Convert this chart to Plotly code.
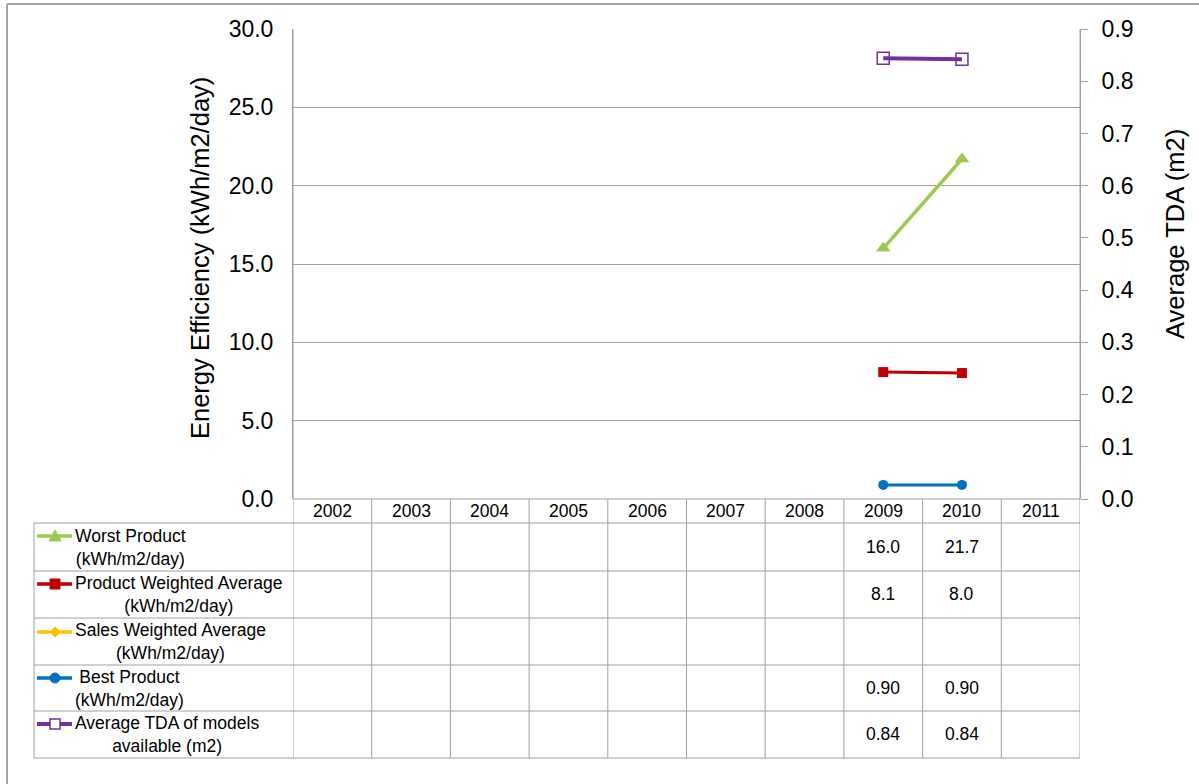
import plotly.graph_objects as go

# ---------------- data ----------------
years = ["2002", "2003", "2004", "2005", "2006", "2007", "2008", "2009", "2010", "2011"]
worst_product = [None, None, None, None, None, None, None, 16.0, 21.7, None]
product_weighted_avg = [None, None, None, None, None, None, None, 8.1, 8.04, None]
sales_weighted_avg = [None, None, None, None, None, None, None, None, None, None]
best_product = [None, None, None, None, None, None, None, 0.90, 0.90, None]
avg_tda = [None, None, None, None, None, None, None, 0.844, 0.842, None]

series_names = [
    "Worst Product<br>(kWh/m2/day)",
    "Product Weighted Average<br>(kWh/m2/day)",
    "Sales Weighted Average<br>(kWh/m2/day)",
    "Best Product<br>(kWh/m2/day)",
    "Average TDA of models<br>available (m2)",
]
series_values = [worst_product, product_weighted_avg, sales_weighted_avg, best_product, avg_tda]
series_formats = ["{:.1f}", "{:.1f}", "{:.1f}", "{:.2f}", "{:.2f}"]
series_colors = ["#9BCB4E", "#C00000", "#FFC000", "#0070C0", "#7030A0"]
left_ticks = [0, 5, 10, 15, 20, 25, 30]
right_ticks = [0.0, 0.1, 0.2, 0.3, 0.4, 0.5, 0.6, 0.7, 0.8, 0.9]

# ---------------- layout helpers ----------------
W, H = 1199, 784
def fx(x):
    return x / W
def fy(y):
    return 1 - y / H

FONT = "Liberation Sans, Arial, sans-serif"
GRID = "#A0A0A0"
TFS = 17.5
xi = list(range(len(years)))

fig = go.Figure()

fig.add_trace(go.Scatter(x=xi, y=worst_product, mode="lines+markers", name="Worst",
                         line=dict(color=series_colors[0], width=3.5),
                         marker=dict(symbol="triangle-up", size=13, color=series_colors[0])))
fig.add_trace(go.Scatter(x=xi, y=product_weighted_avg, mode="lines+markers", name="PWA",
                         line=dict(color=series_colors[1], width=3),
                         marker=dict(symbol="square", size=10, color=series_colors[1])))
fig.add_trace(go.Scatter(x=xi, y=sales_weighted_avg, mode="lines+markers", name="SWA",
                         line=dict(color=series_colors[2], width=3),
                         marker=dict(symbol="diamond", size=10, color=series_colors[2])))
fig.add_trace(go.Scatter(x=xi, y=best_product, mode="lines+markers", name="Best",
                         line=dict(color=series_colors[3], width=3),
                         marker=dict(symbol="circle", size=10, color=series_colors[3])))
fig.add_trace(go.Scatter(x=xi, y=avg_tda, mode="lines+markers", name="TDA", yaxis="y2",
                         line=dict(color=series_colors[4], width=4),
                         marker=dict(symbol="square-open", size=12, color=series_colors[4],
                                     line=dict(width=1.5, color=series_colors[4]))))

shapes = []
def hline(y, x0, x1, xref="paper", color=GRID, width=1):
    shapes.append(dict(type="line", xref=xref, yref="paper", x0=x0, x1=x1, y0=fy(y), y1=fy(y),
                       line=dict(color=color, width=width)))

# x axis line at y=0
hline(499, -0.5, 9.5, xref="x")
# table horizontal lines
for yy in [523, 571, 618, 665, 711, 758]:
    hline(yy, fx(34), fx(1080))
# left border of table legend column
shapes.append(dict(type="line", xref="paper", yref="paper", x0=fx(34), x1=fx(34), y0=fy(523), y1=fy(758),
                   line=dict(color=GRID, width=1)))
# column boundaries
for k in range(len(years) + 1):
    top = 29 if k in (0, len(years)) else 499
    shapes.append(dict(type="line", xref="x", yref="paper", x0=k - 0.5, x1=k - 0.5,
                       y0=fy(top), y1=fy(758), line=dict(color=GRID, width=1)))
# outer chart border
shapes.append(dict(type="line", xref="paper", yref="paper", x0=fx(7), x1=1.01, y0=fy(4), y1=fy(4),
                   line=dict(color="#A6A6A6", width=2)))
shapes.append(dict(type="line", xref="paper", yref="paper", x0=fx(7), x1=fx(7), y0=fy(4), y1=-0.01,
                   line=dict(color="#A6A6A6", width=2)))

# legend keys inside the table
row_key_y = [536, 584, 632, 678, 724]
row_center_y = [547, 594, 641, 688, 734]
key_paths = [
    "M-6,-5 L6,-5 L0,6 Z",
    "M-5,-5 L5,-5 L5,5 L-5,5 Z",
    "M0,-5 L5,0 L0,5 L-5,0 Z",
    None,
    "M-5,-5 L5,-5 L5,5 L-5,5 Z",
]
for i in range(5):
    c = series_colors[i]
    hline(row_key_y[i], fx(37), fx(72), color=c, width=3.5 if i != 4 else 4)
    if i == 3:
        shapes.append(dict(type="circle", xref="paper", yref="paper", xsizemode="pixel", ysizemode="pixel",
                           xanchor=fx(55), yanchor=fy(row_key_y[i]), x0=-5, x1=5, y0=-5, y1=5,
                           fillcolor=c, line=dict(color=c, width=1)))
    elif i == 4:
        shapes.append(dict(type="path", xref="paper", yref="paper", xsizemode="pixel", ysizemode="pixel",
                           xanchor=fx(55), yanchor=fy(row_key_y[i]), path=key_paths[i],
                           fillcolor="white", line=dict(color=c, width=1.5)))
    else:
        shapes.append(dict(type="path", xref="paper", yref="paper", xsizemode="pixel", ysizemode="pixel",
                           xanchor=fx(55), yanchor=fy(row_key_y[i]), path=key_paths[i],
                           fillcolor=c, line=dict(color=c, width=1)))

annotations = []
# header years
for k, yr in enumerate(years):
    annotations.append(dict(x=k, y=fy(511), xref="x", yref="paper", text=yr, showarrow=False,
                            font=dict(family=FONT, size=TFS, color="black"), xanchor="center", yanchor="middle"))
# legend labels + values
for i in range(5):
    annotations.append(dict(x=fx(73), y=fy(row_center_y[i]), xref="paper", yref="paper", text=series_names[i],
                            showarrow=False, align="center", xanchor="left", yanchor="middle",
                            font=dict(family=FONT, size=TFS, color="black")))
    for k, v in enumerate(series_values[i]):
        if v is None:
            continue
        annotations.append(dict(x=k, y=fy(row_center_y[i]), xref="x", yref="paper",
                                text=series_formats[i].format(v), showarrow=False,
                                xanchor="center", yanchor="middle",
                                font=dict(family=FONT, size=TFS, color="black")))
# axis titles
annotations.append(dict(x=fx(200), y=fy(258), xref="paper", yref="paper", text="Energy Efficiency (kWh/m2/day)",
                        textangle=-90, showarrow=False, xanchor="center", yanchor="middle",
                        font=dict(family=FONT, size=25.5, color="black")))
annotations.append(dict(x=fx(1175), y=fy(234), xref="paper", yref="paper", text="Average TDA (m2)",
                        textangle=-90, showarrow=False, xanchor="center", yanchor="middle",
                        font=dict(family=FONT, size=25.5, color="black")))

fig.update_layout(
    width=W, height=H, autosize=False,
    margin=dict(l=0, r=0, t=0, b=0, autoexpand=False),
    paper_bgcolor="white", plot_bgcolor="white",
    showlegend=False,
    xaxis=dict(domain=[fx(293), fx(1080)], range=[-0.5, 9.5], showticklabels=False, showgrid=False,
               zeroline=False, showline=False, ticks="", fixedrange=True, automargin=False),
    yaxis=dict(domain=[fy(499), fy(29)], range=[0, 30], tickvals=left_ticks, tickformat=".1f",
               showgrid=True, gridcolor=GRID, gridwidth=1, zeroline=False,
               showline=True, linecolor=GRID, linewidth=1, ticks="", automargin=False,
               ticklabelstandoff=14,
               tickfont=dict(family=FONT, size=23, color="black")),
    yaxis2=dict(overlaying="y", side="right", anchor="x", range=[0, 0.9], tickvals=right_ticks,
                tickformat=".1f", showgrid=False, zeroline=False, showline=True, linecolor=GRID, linewidth=1,
                ticks="outside", ticklen=7, tickcolor=GRID, ticklabelstandoff=9, automargin=False,
                tickfont=dict(family=FONT, size=23, color="black")),
    shapes=shapes,
    annotations=annotations,
)

fig.write_html("out.html")
